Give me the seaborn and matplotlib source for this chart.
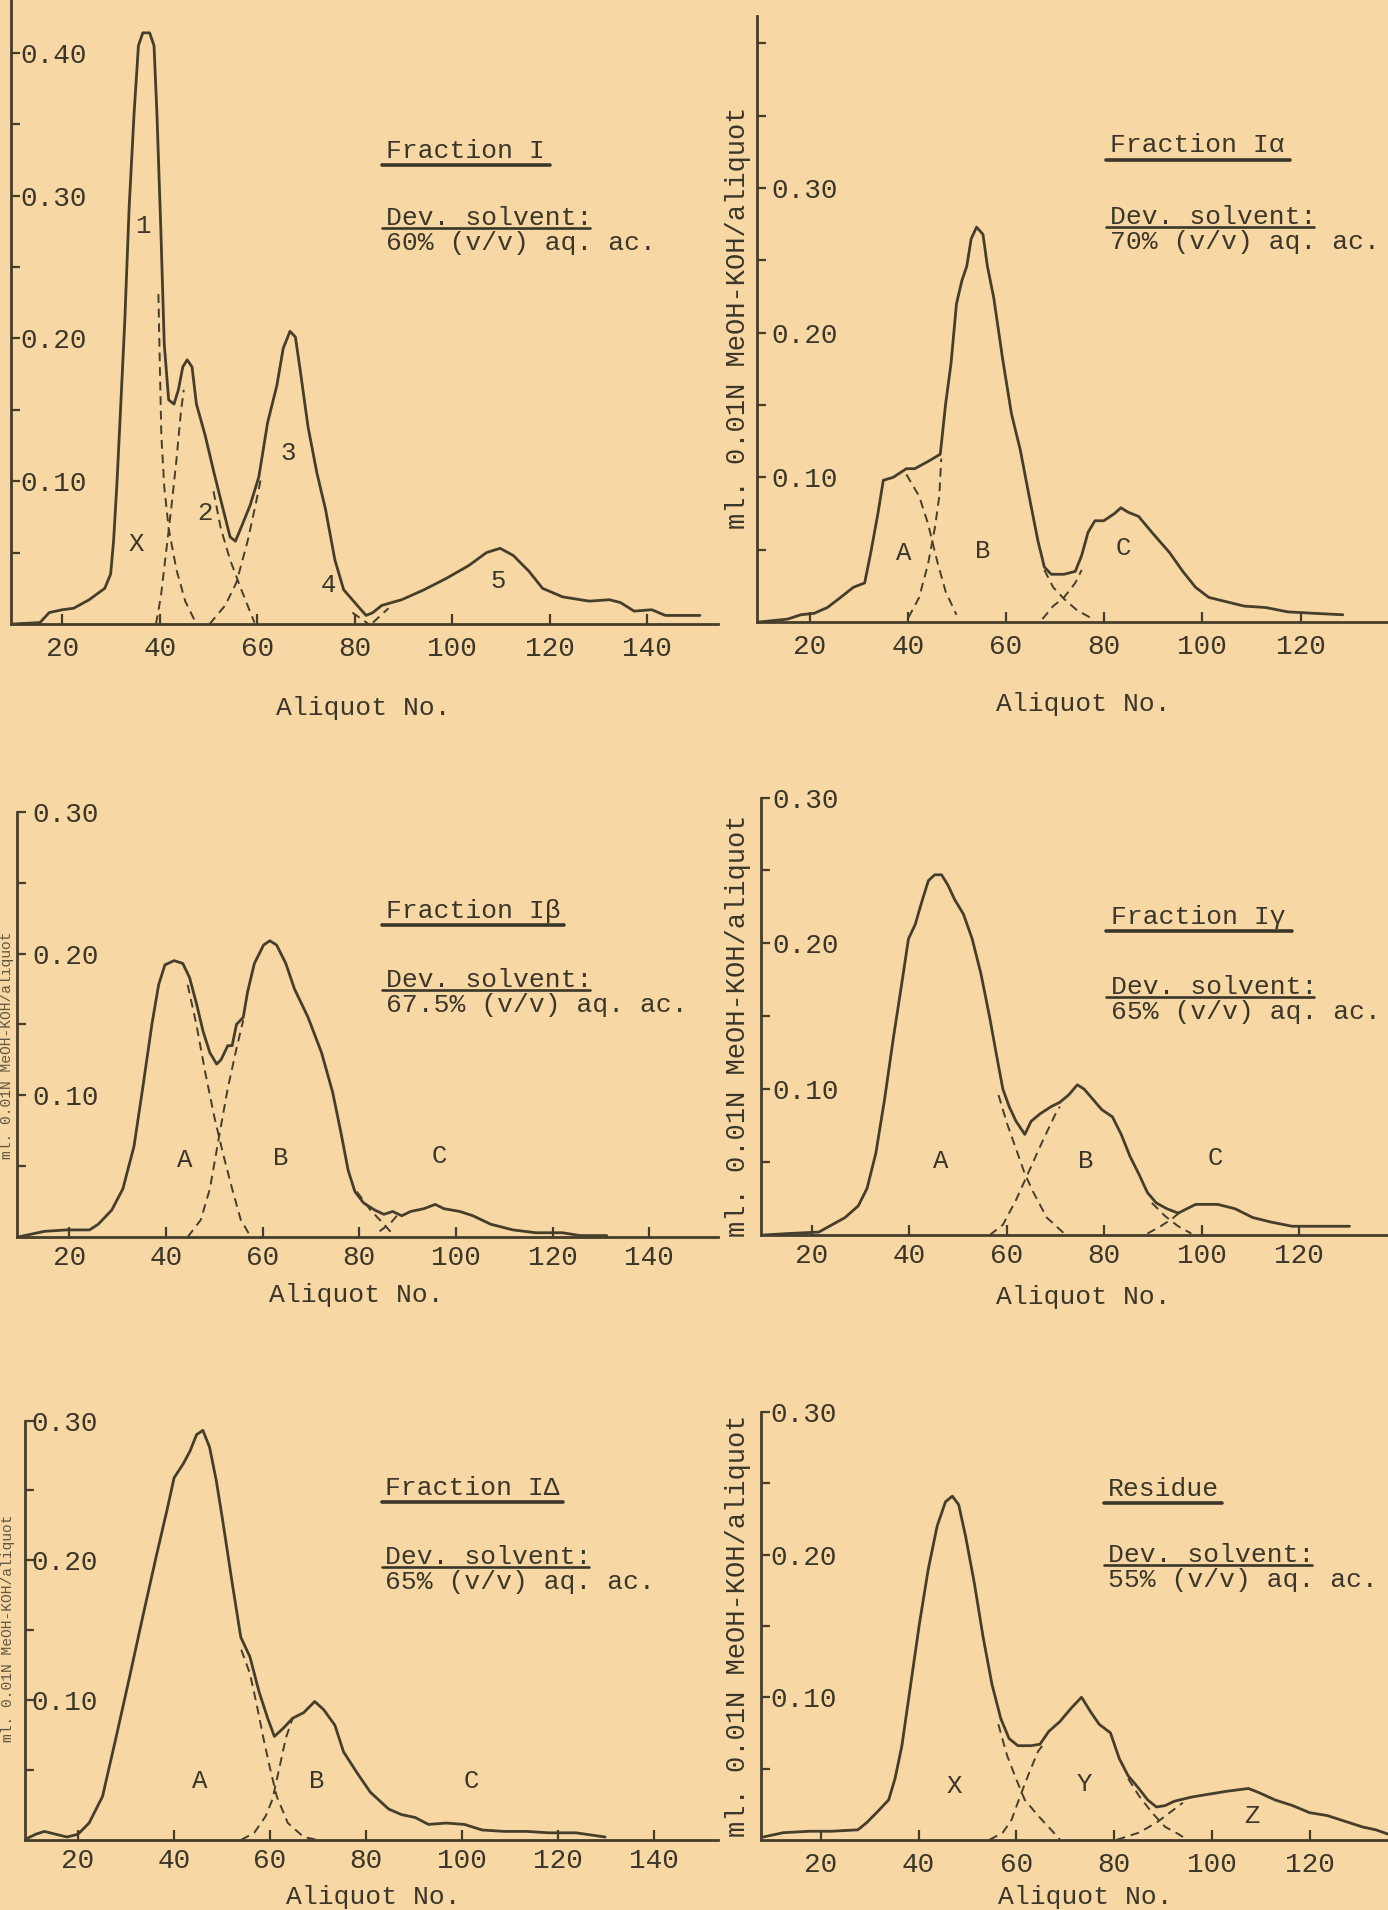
import matplotlib
matplotlib.use("Agg")
import matplotlib.pyplot as plt
from matplotlib.lines import Line2D
import seaborn as sns
import pandas as pd

# ---------------- data ----------------
# Fraction I
p1_main = [(9.9,0.000),(15.4,0.001),(17.3,0.008),(20.0,0.010),(22.3,0.011),(25.5,0.017),(28.7,0.025),
           (29.9,0.035),(30.5,0.058),(31.2,0.099),(31.9,0.148),(32.8,0.212),(33.7,0.292),(34.7,0.357),
           (35.6,0.405),(36.5,0.414),(37.9,0.414),(38.8,0.405),(39.4,0.357),(40.2,0.276),(40.9,0.196),
           (41.8,0.157),(42.9,0.154),(43.8,0.164),(44.7,0.180),(45.6,0.185),(46.6,0.180),(47.5,0.154),
           (49.3,0.132),(51.1,0.106),(53.0,0.080),(54.4,0.061),(55.5,0.058),(56.6,0.067),(58.5,0.083),
           (60.3,0.103),(62.1,0.141),(64.0,0.167),(65.3,0.193),(66.7,0.205),(67.8,0.201),(68.7,0.180),
           (70.4,0.138),(72.2,0.106),(74.0,0.080),(75.9,0.045),(77.7,0.024),(80.5,0.013),(82.3,0.006),
           (83.7,0.008),(85.5,0.013),(89.6,0.017),(94.2,0.024),(98.8,0.032),(103.4,0.041),(107.0,0.050),
           (109.8,0.053),(112.5,0.048),(115.7,0.037),(118.5,0.025),(122.6,0.019),(128.1,0.016),
           (132.2,0.017),(134.5,0.015),(137.3,0.009),(140.9,0.010),(143.7,0.006),(150.8,0.006)]
p1_dash_1 = [(39.7,0.231),(40.0,0.180),(40.3,0.132),(40.9,0.096),(41.8,0.067),(43.4,0.038),(45.2,0.016),(47.5,0.0)]
p1_dash_2 = [(39.2,0.0),(40.2,0.019),(41.3,0.051),(42.4,0.083),(43.4,0.115),(44.3,0.148),(44.9,0.164)]
p1_dash_3 = [(51.0,0.093),(52.5,0.067),(54.4,0.045),(56.6,0.025),(59.4,0.001)]
p1_dash_4 = [(50.2,0.0),(53.4,0.013),(55.7,0.029),(58.0,0.058),(59.6,0.083),(60.8,0.103)]
p1_dash_5 = [(79.5,0.008),(82.8,0.0)]
p1_dash_6 = [(83.7,0.001),(86.9,0.011)]
p1_peaks = [("1",36.5,0.279),("X",35.1,0.056),("2",49.3,0.078),("3",66.3,0.120),("4",74.5,0.027),("5",109.3,0.030)]

# Fraction I alpha
p2_main = [(9.7,0.0),(15.5,0.002),(18.2,0.005),(20.9,0.006),(23.6,0.010),(26.3,0.017),(28.9,0.024),
           (31.2,0.027),(32.5,0.049),(33.9,0.075),(35.0,0.098),(37.0,0.100),(39.7,0.106),(41.4,0.106),
           (44.1,0.111),(46.6,0.116),(47.7,0.151),(48.8,0.179),(49.9,0.220),(51.0,0.236),(52.0,0.246),
           (52.9,0.265),(54.0,0.273),(55.3,0.268),(56.2,0.246),(57.5,0.224),(59.3,0.182),(61.1,0.144),
           (62.9,0.119),(64.7,0.087),(66.5,0.056),(67.8,0.038),(69.2,0.033),(71.8,0.033),(74.1,0.035),
           (75.4,0.046),(76.7,0.062),(78.1,0.070),(79.9,0.070),(82.1,0.075),(83.4,0.079),(84.8,0.076),
           (87.0,0.073),(89.7,0.062),(93.3,0.048),(96.0,0.035),(98.6,0.024),(101.3,0.017),(104.9,0.014),
           (108.5,0.011),(112.9,0.010),(117.4,0.007),(122.8,0.006),(128.6,0.005)]
p2_dash_1 = [(39.7,0.102),(42.3,0.087),(44.1,0.068),(45.9,0.043),(47.7,0.021),(49.9,0.005)]
p2_dash_2 = [(40.1,0.003),(42.3,0.017),(44.1,0.040),(45.5,0.065),(46.4,0.087),(46.8,0.113)]
p2_dash_3 = [(67.8,0.036),(69.6,0.024),(71.8,0.016),(74.5,0.008),(77.2,0.003)]
p2_dash_4 = [(67.4,0.002),(69.6,0.011),(71.8,0.017),(74.1,0.027),(75.4,0.036)]
p2_peaks = [("A",39.2,0.048),("B",55.3,0.049),("C",83.9,0.051)]

# Fraction I beta
p3_main = [(9.4,0.0),(14.9,0.004),(19.5,0.005),(24.2,0.005),(26.0,0.009),(28.8,0.019),(31.1,0.034),
           (33.4,0.064),(35.2,0.105),(37.1,0.150),(38.5,0.178),(39.8,0.192),(41.7,0.195),(43.5,0.193),
           (44.9,0.183),(46.3,0.165),(47.7,0.145),(49.1,0.130),(50.5,0.122),(51.4,0.125),(52.8,0.135),
           (53.7,0.135),(54.6,0.150),(56.0,0.155),(56.9,0.173),(58.3,0.193),(60.2,0.206),(61.5,0.209),
           (62.9,0.206),(64.8,0.193),(66.6,0.175),(69.4,0.155),(72.2,0.130),(74.5,0.102),(76.3,0.072),
           (77.7,0.047),(79.1,0.032),(80.9,0.024),(83.2,0.019),(85.1,0.016),(86.9,0.018),(88.8,0.015),
           (90.6,0.018),(93.4,0.020),(95.7,0.023),(97.5,0.020),(100.8,0.018),(103.5,0.015),(107.2,0.009),
           (111.8,0.005),(116.5,0.003),(122.0,0.003),(125.7,0.001),(131.2,0.001)]
p3_dash_1 = [(44.5,0.178),(46.3,0.150),(48.2,0.115),(50.0,0.085),(51.8,0.059),(53.7,0.034),(55.5,0.012),(57.4,0.001)]
p3_dash_2 = [(44.5,0.0),(47.2,0.012),(49.1,0.034),(50.9,0.069),(52.8,0.105),(54.6,0.133),(56.0,0.153)]
p3_dash_3 = [(79.5,0.032),(82.3,0.019),(85.1,0.009),(86.9,0.002)]
p3_dash_4 = [(84.2,0.004),(86.5,0.010),(88.3,0.017)]
p3_peaks = [("A",44.0,0.054),("B",63.8,0.056),("C",96.6,0.057)]

# Fraction I gamma
p4_main = [(10.1,0.0),(15.0,0.001),(21.4,0.002),(24.1,0.007),(26.8,0.012),(29.5,0.020),(31.3,0.032),
           (33.1,0.056),(34.9,0.093),(36.7,0.135),(38.5,0.174),(39.8,0.203),(41.2,0.213),(42.5,0.228),
           (43.9,0.243),(45.2,0.247),(46.6,0.247),(47.9,0.240),(49.3,0.230),(51.1,0.220),(52.9,0.203),
           (54.7,0.179),(56.5,0.149),(57.8,0.125),(59.2,0.100),(60.5,0.088),(61.9,0.078),(63.7,0.069),
           (65.0,0.078),(66.8,0.083),(69.1,0.088),(70.9,0.091),(72.7,0.096),(74.5,0.103),(75.9,0.100),
           (77.7,0.093),(79.5,0.086),(81.7,0.081),(83.5,0.069),(85.3,0.054),(87.1,0.042),(88.9,0.029),
           (90.7,0.022),(92.9,0.018),(95.2,0.015),(97.0,0.018),(98.8,0.021),(103.3,0.021),(106.9,0.018),
           (110.5,0.012),(114.1,0.009),(118.6,0.006),(123.2,0.006),(130.4,0.006)]
p4_dash_1 = [(58.3,0.096),(60.1,0.076),(61.9,0.059),(63.7,0.042),(65.5,0.029),(68.2,0.012),(71.8,0.001)]
p4_dash_2 = [(56.5,0.0),(59.2,0.007),(61.9,0.024),(64.6,0.044),(67.3,0.064),(70.0,0.083),(70.9,0.088)]
p4_dash_3 = [(89.8,0.022),(92.5,0.013),(95.2,0.006),(97.9,0.001)]
p4_dash_4 = [(88.9,0.001),(91.6,0.006),(93.9,0.011),(95.7,0.016)]
p4_peaks = [("A",46.4,0.051),("B",76.3,0.051),("C",102.9,0.053)]

# Fraction I delta
p5_main = [(8.8,0.0),(11.2,0.004),(13.0,0.006),(15.3,0.004),(17.7,0.002),(20.0,0.004),(22.3,0.012),
           (25.1,0.031),(27.9,0.073),(30.7,0.116),(33.5,0.160),(36.3,0.203),(38.6,0.237),(40.0,0.259),
           (41.9,0.269),(43.3,0.278),(44.7,0.290),(46.0,0.293),(47.4,0.281),(48.8,0.257),(50.2,0.227),
           (52.1,0.184),(53.9,0.145),(55.8,0.131),(57.7,0.106),(59.5,0.087),(60.9,0.074),(62.8,0.080),
           (64.7,0.087),(67.0,0.091),(69.3,0.099),(71.2,0.093),(73.5,0.082),(75.3,0.063),(78.1,0.048),
           (80.9,0.034),(84.7,0.022),(87.4,0.018),(90.2,0.016),(93.0,0.011),(96.7,0.012),(100.5,0.011),
           (104.2,0.007),(108.8,0.006),(113.5,0.006),(118.1,0.005),(123.7,0.005),(129.8,0.002)]
p5_dash_1 = [(54.0,0.136),(55.8,0.119),(57.2,0.097),(58.6,0.073),(60.0,0.051),(61.4,0.031),(63.7,0.012),(67.0,0.002),(69.8,0.0)]
p5_dash_2 = [(54.0,0.0),(56.7,0.005),(59.1,0.017),(60.5,0.029),(61.9,0.051),(63.3,0.073),(64.7,0.087)]
p5_peaks = [("A",45.4,0.042),("B",69.8,0.042),("C",101.9,0.042)]

# Residue
p6_main = [(8.3,0.002),(12.4,0.005),(17.8,0.006),(22.2,0.006),(27.6,0.007),(29.4,0.012),(31.7,0.020),
           (33.9,0.028),(35.2,0.043),(36.6,0.066),(38.4,0.109),(40.2,0.152),(42.0,0.190),(43.8,0.220),
           (45.5,0.237),(46.9,0.241),(48.2,0.235),(49.6,0.213),(51.4,0.180),(53.2,0.142),(55.0,0.109),
           (56.8,0.085),(58.5,0.071),(60.3,0.066),(63.0,0.066),(64.8,0.067),(66.6,0.076),(68.9,0.083),
           (71.1,0.092),(73.3,0.100),(75.1,0.090),(76.9,0.081),(79.2,0.075),(81.0,0.057),(82.8,0.045),
           (85.0,0.036),(86.8,0.028),(88.6,0.023),(90.4,0.024),(92.2,0.027),(95.8,0.030),(99.3,0.032),
           (102.9,0.034),(107.4,0.036),(109.6,0.033),(112.8,0.028),(116.4,0.024),(119.9,0.019),
           (123.5,0.017),(127.1,0.013),(130.7,0.009),(133.4,0.007),(135.9,0.004)]
p6_dash_1 = [(56.3,0.081),(58.1,0.059),(59.9,0.043),(61.7,0.028),(64.4,0.017),(67.1,0.007),(68.9,0.0)]
p6_dash_2 = [(54.5,0.0),(57.2,0.005),(59.0,0.014),(60.8,0.031),(62.6,0.047),(64.4,0.062),(65.3,0.066)]
p6_dash_3 = [(82.8,0.043),(85.0,0.031),(87.7,0.019),(90.4,0.009),(93.1,0.004),(94.9,0.0)]
p6_dash_4 = [(80.5,0.0),(85.0,0.005),(88.6,0.012),(91.3,0.019),(94.0,0.026)]
p6_peaks = [("X",47.3,0.038),("Y",73.8,0.039),("Z",108.1,0.017)]

titles = ["Fraction I", "Fraction Iα", "Fraction Iβ", "Fraction Iγ", "Fraction IΔ", "Residue"]
solvents = ["60% (v/v) aq. ac.", "70% (v/v) aq. ac.", "67.5% (v/v) aq. ac.",
            "65% (v/v) aq. ac.", "65% (v/v) aq. ac.", "55% (v/v) aq. ac."]
dev_label = "Dev. solvent:"
x_label = "Aliquot No."
y_label = "ml. 0.01N MeOH-KOH/aliquot"
y_major_ticks = [[0.10, 0.20, 0.30, 0.40], [0.10, 0.20, 0.30], [0.10, 0.20, 0.30],
                 [0.10, 0.20, 0.30], [0.10, 0.20, 0.30], [0.10, 0.20, 0.30]]
y_minor_ticks = [[0.05, 0.15, 0.25, 0.35], [0.05, 0.15, 0.25, 0.35, 0.40], [0.05, 0.15, 0.25],
                 [0.05, 0.15, 0.25], [0.05, 0.15, 0.25], [0.05, 0.15, 0.25]]
x_ticks_left = [20, 40, 60, 80, 100, 120, 140]
x_ticks_right = [20, 40, 60, 80, 100, 120]

# ---------------- layout (pixels of the 1388x1910 page) ----------------
W, H = 1388, 1910
BG = "#F7D8A4"
INK = "#463D2B"
TXT = "#3B3629"

sns.set_theme(style="ticks")
plt.rcParams["font.family"] = ["Liberation Mono", "DejaVu Sans Mono"]

fig = plt.figure(figsize=(W / 100, H / 100), dpi=100, facecolor=BG)

def fx(px):
    return px / W

def fy(py):
    return 1 - py / H

# left, right, baseline, top (px); xlim; ylim top; ytick label pad px; xtick label pad px
layout = [
    dict(l=11.2, r=718, b=624, t=0, xlim=(9.5, 154.5), ytop=0.437, ypad=9, xpad=12),
    dict(l=757, r=1388, b=622, t=16, xlim=(9.27, 137.8), ytop=0.419, ypad=14, xpad=12),
    dict(l=17, r=718, b=1237, t=811.8, xlim=(9.2, 154.2), ytop=0.30, ypad=15, xpad=8),
    dict(l=761.4, r=1388, b=1235, t=797.5, xlim=(9.6, 138.3), ytop=0.30, ypad=11, xpad=8),
    dict(l=24.5, r=718, b=1839.8, t=1420.6, xlim=(8.85, 153.3), ytop=0.30, ypad=7, xpad=8),
    dict(l=761.4, r=1388, b=1839.8, t=1412, xlim=(7.9, 135.9), ytop=0.30, ypad=9, xpad=12),
]
# text block: left x, title underline y, title underline x-range, dev underline y, dev underline x-range
text_pos = [
    dict(x=386, tu=165, tux=(381.7, 550), du=228, dux=(381.7, 590)),
    dict(x=1110, tu=160, tux=(1106, 1290), du=227, dux=(1106, 1314)),
    dict(x=386, tu=925, tux=(381.7, 564), du=990, dux=(381.7, 590)),
    dict(x=1111, tu=931, tux=(1106, 1292), du=997, dux=(1106, 1314)),
    dict(x=385, tu=1502, tux=(381.7, 563), du=1567, dux=(381.7, 589)),
    dict(x=1108, tu=1503, tux=(1103.7, 1222), du=1565, dux=(1103.7, 1312)),
]
xlabel_pos = [(363, 708), (1083, 704), (356, 1295), (1083, 1297), (373, 1897), (1085, 1897)]
ylabel_pos = [(738, 318), (738, 1026), (738, 1626)]
# fragments of the neighbouring page's axis title, cut at the left edge of the scan
edge_label_pos = [(7, 1045), (8, 1628)]

mains = [p1_main, p2_main, p3_main, p4_main, p5_main, p6_main]
dashes = [[p1_dash_1, p1_dash_2, p1_dash_3, p1_dash_4, p1_dash_5, p1_dash_6],
          [p2_dash_1, p2_dash_2, p2_dash_3, p2_dash_4],
          [p3_dash_1, p3_dash_2, p3_dash_3, p3_dash_4],
          [p4_dash_1, p4_dash_2, p4_dash_3, p4_dash_4],
          [p5_dash_1, p5_dash_2],
          [p6_dash_1, p6_dash_2, p6_dash_3, p6_dash_4]]
peaks = [p1_peaks, p2_peaks, p3_peaks, p4_peaks, p5_peaks, p6_peaks]

for i in range(6):
    L = layout[i]
    ax = fig.add_axes([fx(L["l"]), fy(L["b"]), (L["r"] - L["l"]) / W, (L["b"] - L["t"]) / H])
    ax.patch.set_alpha(0)

    df = pd.DataFrame(mains[i], columns=["x", "y"])
    sns.lineplot(data=df, x="x", y="y", ax=ax, color=INK, lw=2.0, sort=False, estimator=None)
    for seg in dashes[i]:
        dd = pd.DataFrame(seg, columns=["x", "y"])
        sns.lineplot(data=dd, x="x", y="y", ax=ax, color=INK, lw=1.4, sort=False,
                     estimator=None, linestyle=(0, (4.5, 3)))
    for s, px_, py_ in peaks[i]:
        ax.text(px_, py_, s, ha="center", va="center", fontsize=18.5, color=TXT)

    ax.set_xlim(*L["xlim"])
    ax.set_ylim(0, L["ytop"])
    ax.set_xlabel("")
    ax.set_ylabel("")
    for sp in ["top", "right"]:
        ax.spines[sp].set_visible(False)
    for sp in ["left", "bottom"]:
        ax.spines[sp].set_color(INK)
        ax.spines[sp].set_linewidth(2.0)

    xt = x_ticks_left if i % 2 == 0 else x_ticks_right
    ax.set_xticks(xt)
    ax.set_xticklabels([str(v) for v in xt])
    ax.set_yticks(y_major_ticks[i])
    ax.set_yticklabels(["%.2f" % v for v in y_major_ticks[i]])
    ax.set_yticks(y_minor_ticks[i], minor=True)
    ax.tick_params(axis="x", which="both", direction="in", length=7, width=1.6, color=INK,
                   labelcolor=TXT, labelsize=20, pad=L["xpad"] * 0.72)
    ax.tick_params(axis="y", which="both", direction="in", length=6.5, width=1.6, color=INK,
                   labelcolor=TXT, labelsize=20, pad=-L["ypad"] * 0.72)
    plt.setp(ax.get_yticklabels(), ha="left")

    T = text_pos[i]
    tb = T["tu"] - 7.5
    db = T["du"] - 3
    sb = T["du"] + 22
    fig.text(fx(T["x"]), fy(tb), titles[i], ha="left", va="baseline", fontsize=19, color=TXT)
    fig.text(fx(T["x"]), fy(db), dev_label, ha="left", va="baseline", fontsize=19, color=TXT)
    fig.text(fx(T["x"]), fy(sb), solvents[i], ha="left", va="baseline", fontsize=19, color=TXT)
    fig.add_artist(Line2D([fx(T["tux"][0]), fx(T["tux"][1])], [fy(T["tu"]), fy(T["tu"])],
                          transform=fig.transFigure, lw=2.6, color=TXT))
    fig.add_artist(Line2D([fx(T["dux"][0]), fx(T["dux"][1])], [fy(T["du"]), fy(T["du"])],
                          transform=fig.transFigure, lw=1.9, color=TXT))

    xl = xlabel_pos[i]
    fig.text(fx(xl[0]), fy(xl[1]), x_label, ha="center", va="center", fontsize=19, color=TXT)

for (yx, yy) in ylabel_pos:
    fig.text(fx(yx), fy(yy), y_label, ha="center", va="center", rotation=90,
             fontsize=19.5, color=TXT)

for (yx, yy) in edge_label_pos:
    fig.text(fx(yx), fy(yy), y_label, ha="center", va="center", rotation=90,
             fontsize=10.5, color=TXT, alpha=0.8)

fig.savefig("out.png", dpi=100, facecolor=BG)
